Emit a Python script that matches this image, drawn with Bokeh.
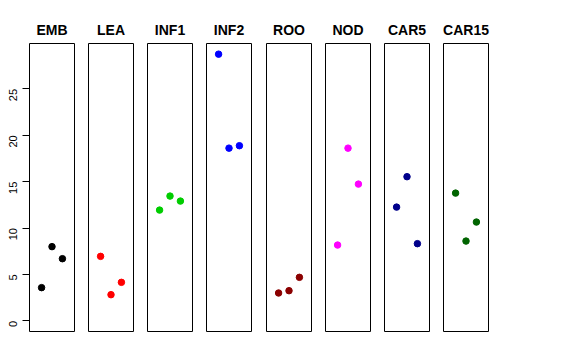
import math
from bokeh.plotting import figure
from bokeh.layouts import row
from bokeh.models import Range1d, FixedTicker
from bokeh.embed import file_html
from bokeh.resources import INLINE

# ---- data ----
groups = ["EMB", "LEA", "INF1", "INF2", "ROO", "NOD", "CAR5", "CAR15"]
colors = ["black", "red", "#00CD00", "blue", "#8B0000", "magenta", "#00008B", "#006400"]
positions = [1, 2, 3]
emb = [3.58, 8.00, 6.70]
lea = [6.95, 2.82, 4.15]
inf1 = [11.94, 13.45, 12.91]
inf2 = [28.75, 18.62, 18.88]
roo = [3.00, 3.25, 4.69]
nod = [8.17, 18.62, 14.74]
car5 = [12.26, 15.54, 8.32]
car15 = [13.77, 8.60, 10.65]
series = [emb, lea, inf1, inf2, roo, nod, car5, car15]
y_ticks = [0, 5, 10, 15, 20, 25]

# ---- ranges (R-style 4% extension) ----
ymax = max(max(s) for s in series)
ypad = 0.04 * ymax
y_range = Range1d(-ypad, ymax + ypad)
xpad = 0.04 * 4

frame_w = 45
frame_left = [round(28.7 + 59.2 * i) for i in range(len(groups))]
starts = [0] + [fl - 7 for fl in frame_left[1:]]
ends = starts[1:] + [frame_left[-1] + frame_w + 8]

figs = []
for i, (g, c, vals) in enumerate(zip(groups, colors, series)):
    w = ends[i] - starts[i]
    left_b = frame_left[i] - starts[i]
    right_b = w - left_b - frame_w
    p = figure(width=w, height=345, x_range=Range1d(-xpad, 4 + xpad), y_range=y_range,
               output_backend="svg", toolbar_location=None,
               x_axis_location=None, y_axis_location=("left" if i == 0 else None),
               min_border_left=left_b, min_border_right=right_b,
               min_border_top=43, min_border_bottom=14,
               background_fill_color="white", border_fill_color="white")
    p.grid.visible = False
    p.outline_line_color = "black"
    p.outline_line_width = 1
    p.outline_line_alpha = 1
    p.title.text = g
    p.title.align = "center"
    p.title.vertical_align = "middle"
    p.title.text_font = "Liberation Sans"
    p.title.text_font_style = "bold"
    p.title.text_font_size = "14px"
    p.title.text_color = "black"
    p.title.standoff = 9
    p.scatter(positions, vals, size=6.5, color=c, line_color=c)
    if i == 0:
        ax = p.yaxis[0]
        ax.ticker = FixedTicker(ticks=y_ticks)
        ax.bounds = (0, 25)
        ax.major_tick_out = 7
        ax.major_tick_in = 0
        ax.minor_tick_line_color = None
        ax.major_label_orientation = math.pi / 2
        ax.major_label_text_font = "Liberation Sans"
        ax.major_label_text_font_size = "11px"
        ax.major_label_text_color = "black"
        ax.major_label_standoff = 9
        ax.axis_line_color = "black"
        ax.major_tick_line_color = "black"
    figs.append(p)

layout = row(*figs, spacing=0)
open("out.html", "w").write(file_html(layout, INLINE))
